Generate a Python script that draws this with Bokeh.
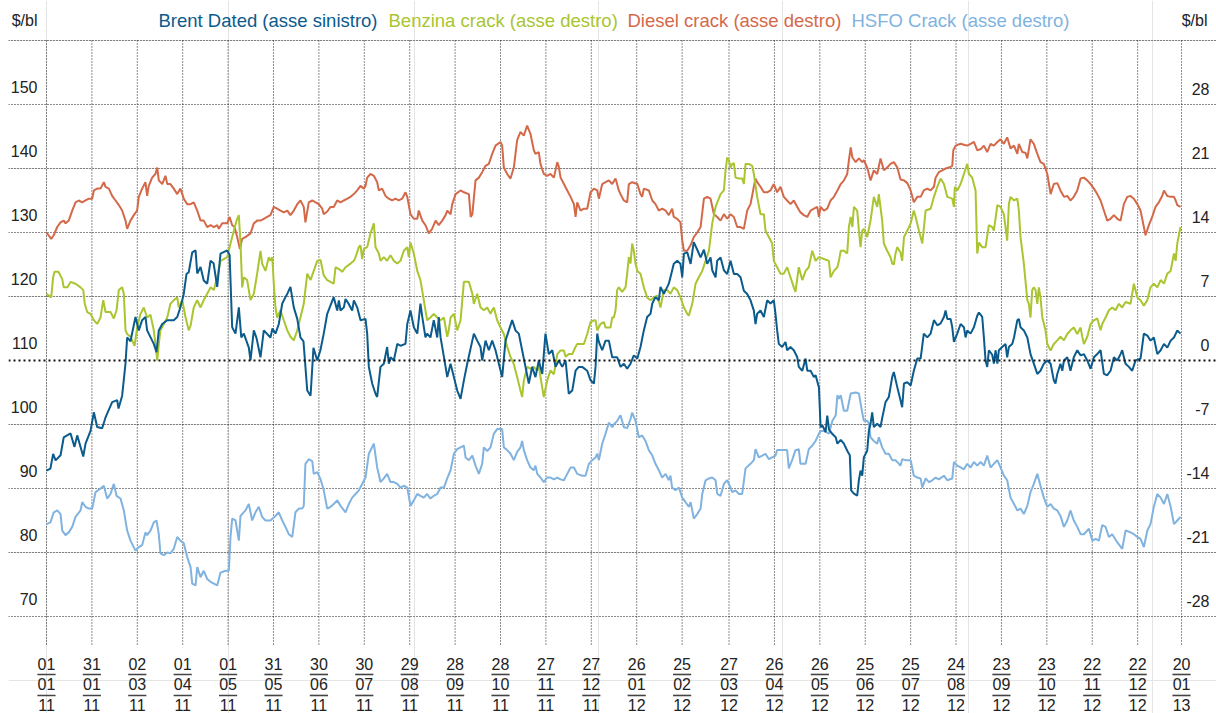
import pandas as pd
from bokeh.plotting import figure
from bokeh.models import Range1d, Grid, FixedTicker, Span, Label
from bokeh.core.properties import value
from bokeh.embed import file_html
from bokeh.resources import INLINE

# ---------------- data (x = days since 01/01/2011) ----------------
brent_day = [
    0, 2.6, 4.4, 6, 9.3, 11.4, 15.9, 18.5, 20.3, 24.3,
    25.8, 29.1, 31.3, 33.5, 36.8, 39, 43.4, 46.7, 47.6, 50,
    52.2, 53.3, 55.5, 58.8, 61, 63.2, 65.4, 66.5, 70.9, 72.7,
    74.2, 76.5, 79.8, 84.1, 86.4, 88.5, 90.7, 92.5, 94, 96.3,
    98.5, 99.6, 101.8, 103.9, 106.2, 108.4, 110.4, 112.8, 115, 119.4,
    121, 122.7, 124.9, 127.1, 128.7, 130.4, 133.7, 134.8, 137, 138.8,
    141.4, 143.6, 148, 149.3, 151.3, 153.5, 155.8, 157.9, 159.1, 161.2,
    163.4, 165.7, 167.8, 169.8, 172.3, 174.5, 176.4, 178.9, 181, 183.2,
    185.5, 189.8, 192.1, 193.2, 194.3, 196.5, 197.6, 199.8, 202, 203.1,
    205.3, 207.5, 210.8, 211.9, 213, 215.2, 217.4, 218.5, 220.7, 222.9,
    225.1, 226.2, 227.3, 229.5, 231.8, 233.9, 237.2, 238.4, 240.5, 242.7,
    245, 247.1, 248.3, 250.4, 251.5, 253.7, 255.9, 258.2, 259.2, 260.4,
    261.5, 263.7, 264.8, 267, 269.2, 271.4, 273.6, 275.8, 278, 282.4,
    284.6, 286.8, 287.9, 290.1, 292.3, 294.5, 296.7, 298.9, 301.1, 303.3,
    305.5, 307.7, 309.9, 312.1, 314.3, 316.5, 318.7, 320.9, 323.1, 325.3,
    327.6, 329.7, 331.9, 334.2, 336.4, 338.5, 340.8, 343, 345.1, 347.4,
    349.6, 351.7, 354, 357.3, 359.5, 361.7, 362.8, 363.9, 365, 367.2,
    369.4, 371.6, 373.8, 377.1, 379.3, 381.5, 383.7, 385.9, 388.1, 390.4,
    392.5, 394.7, 396.9, 399.1, 400.3, 402.4, 404.6, 405.7, 407.9, 410.2,
    411.2, 412.3, 414.5, 416.8, 418.9, 420.1, 421.2, 423.4, 425.6, 427.7,
    430, 432.2, 434.4, 436.6, 438.8, 439.9, 442.1, 443.2, 445.4, 447.6,
    449.8, 452, 454.2, 456.4, 458.6, 460.8, 463, 465.2, 467.4, 468.5,
    469.6, 471.8, 474, 476.2, 478.4, 480.6, 481.7, 482.8, 483.9, 486.1,
    488.3, 489.4, 491.6, 493.8, 496.1, 497.1, 499.4, 501.6, 502.7, 504.9,
    507.1, 508.2, 510.4, 511.5, 512.8, 514.8, 515.9, 517.1, 519.3, 521.5,
    522.6, 524.8, 526.9, 529.1, 530.8, 531.7, 533.5, 535.7, 536.8, 537.9,
    539, 540.1, 542.3, 543.4, 544.5, 545.6, 546.7, 548.9, 551.1, 552.2,
    554.4, 556.6, 558.8, 559.9, 562.2, 564.3, 565.4, 566.6, 568.8, 571,
    573.1, 575.4, 577.6, 579.7, 582, 584.2, 586.4, 588.6, 590.8, 593,
    594.1, 595.2, 597.4, 598.5, 599.6, 601.8, 604, 606.2, 607.3, 608.4,
    610.6, 612.8, 615, 616.1, 618.3, 619.4, 620.5, 621.6, 622.7, 624.9,
    626, 627.1, 628.3, 629.3, 631.5, 633.7, 634.8, 635.9, 638.2, 639.3,
    641.5, 642.5, 643.6, 645.8, 648.1, 650.2, 652.4, 654.7, 656.8, 659,
    661.3, 663.5, 665.6, 666.7, 667.9, 670, 671.2, 672.3, 674.5, 676.6,
    678.8, 681.1, 683.3, 685.5, 687.7, 689.9, 692.1, 694.3, 696.5, 698.7,
    700.9, 703.1, 705.3, 707.6, 709.7, 710.8, 713, 715.2, 717.4, 719.6,
    722.9, 725.1, 727.4, 729.5, 731.7, 734, 736.2, 738.4, 740.6, 742.8,
    745, 747.2, 749.3,
]
brent_val = [
    92.8, 93.1, 95.4, 94.4, 95.2, 98.0, 98.6, 96.5, 98.3, 95.0,
    97.0, 99.0, 101.9, 99.6, 99.4, 101.1, 103.5, 103.8, 102.5, 104.5,
    109.5, 113.6, 113.0, 116.8, 114.7, 116.3, 116.8, 114.7, 112.6, 111.3,
    114.7, 115.7, 116.3, 116.3, 116.8, 118.3, 120.4, 123.5, 123.8, 126.9,
    127.2, 123.6, 124.6, 122.5, 122.0, 125.6, 125.2, 121.5, 126.7, 127.2,
    126.5, 115.2, 114.2, 118.3, 113.6, 114.2, 112.0, 110.0, 114.7, 113.5,
    110.5, 114.7, 113.6, 115.0, 114.2, 115.7, 118.9, 119.9, 120.4, 121.5,
    118.3, 116.5, 113.6, 113.0, 105.3, 104.5, 112.0, 110.0, 111.6, 114.2,
    117.3, 119.9, 117.8, 119.4, 117.8, 118.3, 119.6, 118.8, 117.8, 119.4,
    118.3, 116.3, 116.5, 114.2, 109.0, 106.4, 104.8, 104.3, 109.0, 109.5,
    112.1, 109.5, 110.5, 110.0, 112.6, 112.3, 112.6, 115.7, 117.8, 115.2,
    114.2, 118.9, 116.8, 113.6, 114.2, 113.6, 116.3, 113.6, 116.8, 113.6,
    112.1, 109.0, 107.4, 109.5, 107.4, 105.3, 104.0, 106.9, 109.5, 114.2,
    113.1, 112.1, 110.0, 113.1, 111.6, 113.1, 111.6, 109.5, 107.4, 113.1,
    114.7, 116.3, 114.7, 114.2, 111.6, 109.0, 106.4, 109.0, 107.4, 110.0,
    107.9, 114.2, 111.0, 111.6, 109.0, 110.0, 109.0, 110.0, 104.8, 105.3,
    108.4, 109.0, 109.0, 108.4, 106.9, 106.4, 109.0, 114.2, 112.9, 111.6,
    113.1, 113.1, 110.5, 110.5, 109.0, 109.5, 108.7, 109.5, 110.8, 110.3,
    112.1, 114.7, 116.8, 117.3, 118.9, 119.9, 119.4, 121.5, 120.4, 121.5,
    122.0, 123.0, 125.1, 125.6, 125.1, 123.0, 126.7, 126.9, 125.1, 128.5,
    127.3, 126.1, 127.3, 125.1, 126.1, 124.1, 123.0, 125.6, 126.1, 124.1,
    123.5, 125.6, 123.5, 123.5, 123.0, 120.9, 120.4, 119.4, 117.8, 115.7,
    117.3, 117.8, 116.8, 119.4, 118.9, 119.4, 117.3, 114.7, 112.6, 112.1,
    112.9, 111.6, 112.1, 111.6, 110.5, 109.0, 108.4, 110.3, 108.4, 108.4,
    107.4, 107.7, 105.8, 99.6, 99.8, 98.8, 101.4, 99.2, 98.5, 98.0,
    97.0, 97.6, 97.0, 95.9, 95.2, 89.7, 89.2, 88.9, 91.3, 92.8,
    92.0, 94.9, 95.9, 99.0, 100.1, 101.9, 99.6, 100.1, 99.6, 101.0,
    103.5, 104.3, 107.4, 108.2, 105.8, 103.8, 102.7, 106.4, 106.6, 106.1,
    108.4, 110.3, 110.3, 114.2, 113.6, 114.2, 116.3, 115.5, 115.8, 116.8,
    117.8, 116.5, 116.5, 115.2, 112.9, 114.2, 115.7, 115.2, 113.6, 114.7,
    114.2, 115.2, 117.0, 117.5, 116.8, 113.6, 110.0, 109.0, 111.6, 110.9,
    109.5, 111.6, 109.5, 111.6, 112.1, 112.6, 110.5, 112.1, 112.6, 113.6,
    116.3, 116.5, 115.2, 114.7, 113.6, 111.0, 109.5, 107.9, 108.4, 109.5,
    110.0, 109.5, 106.9, 106.4, 107.9, 109.5, 108.4, 110.0, 110.5, 108.4,
    110.5, 111.6, 110.8, 111.0, 110.0, 108.7, 110.5, 111.0, 111.6, 107.9,
    107.7, 108.4, 110.5, 110.0, 111.0, 111.6, 109.5, 109.0, 108.4, 110.0,
    110.3, 114.2, 113.9, 113.1, 113.6, 111.0, 111.6, 112.6, 112.0, 113.1,
    113.6, 114.7, 114.2,
]

benzina_day = [
    0, 3.1, 4.4, 5.3, 7.9, 10.4, 11.4, 13.9, 15.9, 19.2,
    22.5, 24.3, 25.3, 26.9, 29.1, 31.3, 33.5, 35.7, 37.5, 39,
    42.3, 44.5, 46.3, 47.8, 50, 51.1, 52.2, 53.3, 55.5, 58.2,
    59.9, 62.1, 64.3, 66.5, 68.7, 70.9, 72, 73.2, 74.2, 75.3,
    77.5, 79.8, 81.9, 84.1, 86.4, 87.4, 89.7, 91.9, 94, 95.2,
    97.3, 99.6, 101.8, 103.9, 106.2, 108.4, 110.6, 112.8, 115, 117.2,
    119.4, 121.6, 123.8, 125.6, 127.1, 128.2, 129.3, 130.4, 132.6, 134.8,
    137, 139.2, 141.4, 142.5, 144.7, 146.9, 148, 149.2, 150.2, 151.3,
    152.4, 154.6, 156.8, 159.1, 161.2, 163.4, 165.7, 167.8, 170, 172.3,
    174.5, 176.6, 178.9, 181.1, 183.2, 185.5, 187.7, 189.8, 191, 193.2,
    195.4, 197.6, 200.9, 203.1, 204.2, 206.4, 207.5, 208.6, 209.7, 211.9,
    214.1, 216.3, 217.4, 219.6, 220.7, 222.9, 225.1, 227.3, 229.5, 231.8,
    233.9, 236.1, 238.4, 239.4, 240.5, 242.7, 245, 247.1, 249.3, 251.5,
    253.7, 255.9, 258.2, 260.4, 262.6, 264.8, 265.8, 267, 269.2, 271.4,
    273.6, 275.8, 279.1, 281.4, 282.4, 284.6, 286.8, 289, 291.2, 293.4,
    294.5, 295.6, 297.8, 300, 302.2, 304.4, 306.6, 308.8, 311, 313.2,
    314.3, 315.4, 317.6, 319.8, 322, 324.3, 325.3, 326.4, 328.6, 330.8,
    333, 335.3, 337.5, 339.7, 341.9, 343, 345.1, 347.4, 349.6, 350.7,
    352.9, 355.1, 357.3, 359.5, 361.7, 362.8, 363.9, 366.1, 368.3, 369.4,
    371.6, 372.7, 373.8, 374.9, 376, 377.1, 378.2, 380.4, 382.6, 383.7,
    384.8, 385.9, 387, 388.1, 389.2, 390.4, 392.5, 394.7, 396.9, 399.1,
    401.3, 403.5, 405.7, 407.9, 410.2, 412.3, 414.5, 416.8, 418.9, 421.2,
    423.4, 424.4, 426.7, 428.9, 431, 433.3, 435.5, 437.7, 439.9, 442.1,
    445.4, 447.6, 448.7, 449.8, 450.9, 452, 453.1, 454.2, 455.3, 457.5,
    459.7, 460.8, 461.9, 464.1, 466.3, 467.4, 469.6, 471.8, 474, 475.1,
    477.3, 479.5, 480.6, 482.8, 485, 487.2, 489.4, 491.6, 493.8, 494.9,
    497.1, 499.4, 501.6, 503.7, 506, 508.2, 510.4, 513.7, 517, 518.1,
    520.3, 522.6, 523.6, 524.8, 526.9, 529.1, 530.2, 531.4, 532.5, 533.5,
    535.7, 536.8, 537.9, 539, 540.1, 542.3, 544.5, 546.7, 548.9, 550,
    552.2, 553.3, 555.5, 557.7, 558.8, 559.9, 561, 562.2, 564.3, 565.4,
    566.6, 568.8, 571, 573.1, 574.3, 576.5, 578.7, 580.9, 584.2, 586.4,
    588.6, 590.8, 593, 595.2, 598.5, 599.6, 600.2, 601.8, 604, 606.2,
    608.4, 609.5, 611.7, 613.9, 615, 616.1, 618.3, 620.5, 622.7, 624.9,
    626, 628.3, 630.4, 632.6, 634.8, 635.9, 637, 639.3, 641.5, 642.5,
    643.6, 645.8, 648.1, 649.1, 650.2, 651.3, 652.4, 653.5, 654.7, 655.7,
    656.8, 658, 660.1, 661.3, 663.5, 665.6, 667.9, 670, 672.3, 674.5,
    676.6, 678.8, 681.1, 683.3, 684.4, 685.5, 687.7, 689.9, 692.1, 694.3,
    696.5, 697.6, 699.8, 702, 704.2, 706.4, 708.6, 710.8, 713, 716.3,
    718.5, 720.8, 722.9, 725.1, 727.4, 729.5, 731.7, 734, 736.2, 738.4,
    740.6, 742.8, 745, 746.1, 747.2, 749.3,
]
benzina_val = [
    7.3, 6.9, 9.1, 9.7, 9.7, 8.9, 8.0, 8.0, 8.6, 8.4,
    8.0, 7.7, 6.2, 5.3, 5.1, 4.4, 4.0, 4.7, 6.6, 5.3,
    5.3, 4.6, 5.5, 7.7, 8.0, 7.3, 3.3, 2.9, 2.6, 1.6,
    3.6, 5.1, 5.8, 4.7, 5.0, 3.3, 1.8, 0.0, 1.8, 3.3,
    4.0, 4.7, 6.2, 6.6, 6.9, 5.8, 6.6, 4.7, 3.3, 3.8,
    5.8, 6.6, 5.8, 6.6, 7.3, 8.0, 7.7, 9.1, 10.9, 11.1,
    11.3, 12.8, 14.2, 15.3, 15.9, 12.8, 8.0, 9.1, 8.8, 6.6,
    7.3, 9.5, 12.0, 10.6, 9.8, 11.3, 10.9, 11.3, 8.4, 5.8,
    4.7, 5.5, 4.4, 3.3, 2.6, 2.2, 3.3, 4.7, 6.2, 9.5,
    8.8, 9.8, 10.9, 11.0, 9.3, 8.8, 8.6, 8.4, 10.2, 10.0,
    9.7, 10.2, 10.6, 10.9, 11.3, 12.4, 12.6, 11.1, 12.2, 12.4,
    13.9, 15.0, 12.4, 11.7, 10.9, 11.3, 10.9, 11.5, 10.9, 10.6,
    10.9, 12.0, 12.4, 11.3, 12.9, 11.7, 9.8, 8.8, 6.6, 4.4,
    4.7, 5.1, 4.7, 4.4, 4.7, 2.6, 3.3, 4.7, 5.1, 3.3,
    4.4, 8.6, 8.6, 7.3, 6.2, 7.3, 5.8, 5.5, 5.8, 5.1,
    5.5, 5.8, 4.4, 3.6, 2.9, 1.5, 0.4, -0.4, -1.8, -3.3,
    -4.0, -2.2, -0.7, -0.9, -0.7, -1.1, -0.4, -1.8, -4.0, -2.2,
    -1.1, -1.5, 0.7, 1.1, 1.1, 0.4, 0.7, 0.7, 1.5, 1.8,
    1.8, 1.8, 2.9, 4.2, 4.4, 4.4, 3.3, 4.0, 4.2, 3.6,
    3.6, 3.6, 4.7, 4.7, 5.5, 7.7, 8.0, 7.5, 8.0, 9.5,
    11.3, 10.6, 12.8, 12.0, 10.6, 9.8, 9.5, 8.0, 6.9, 6.6,
    6.9, 7.1, 5.8, 7.7, 7.7, 7.3, 8.0, 7.7, 6.9, 5.8,
    5.1, 4.9, 6.2, 8.4, 9.1, 9.8, 10.9, 12.0, 15.0, 16.8,
    18.2, 18.6, 20.8, 22.2, 21.9, 21.1, 21.5, 21.6, 20.0, 19.9,
    19.9, 19.3, 21.5, 21.5, 21.3, 20.4, 17.9, 16.0, 16.0, 14.2,
    13.5, 12.8, 10.9, 10.2, 9.5, 9.5, 10.2, 9.1, 8.0, 7.5,
    10.2, 8.8, 9.8, 10.2, 12.0, 10.9, 11.3, 11.1, 10.9, 9.1,
    9.8, 10.2, 10.9, 12.0, 12.0, 11.7, 14.6, 15.7, 14.6, 16.8,
    16.4, 14.2, 12.4, 14.2, 14.4, 13.5, 15.3, 17.9, 16.8, 18.2,
    15.3, 12.8, 12.0, 11.3, 10.6, 10.5, 11.7, 12.4, 11.8, 10.9,
    13.5, 14.2, 15.0, 16.4, 15.7, 14.2, 12.8, 16.4, 16.6, 17.9,
    19.0, 19.9, 19.3, 17.9, 17.7, 16.8, 19.0, 18.6, 19.3, 20.4,
    21.5, 20.4, 20.0, 18.6, 11.7, 12.9, 12.4, 12.4, 14.8, 14.6,
    14.2, 17.0, 16.8, 16.0, 13.1, 17.1, 17.9, 17.5, 17.7, 16.4,
    13.5, 10.6, 6.6, 6.2, 4.7, 7.7, 8.0, 7.7, 6.2, 8.0,
    6.9, 4.7, 3.3, 1.8, 1.1, 1.8, 2.2, 2.6, 2.2, 2.9,
    3.3, 3.6, 2.9, 3.6, 2.6, 1.8, 2.6, 4.0, 4.4, 4.6,
    3.3, 4.0, 4.7, 5.5, 5.8, 5.5, 6.2, 5.8, 6.4, 6.2,
    8.4, 6.9, 6.6, 6.0, 6.6, 8.0, 8.4, 8.0, 8.8, 8.4,
    9.5, 9.8, 11.7, 10.9, 12.8, 14.6,
]

diesel_day = [
    0, 3.1, 4.8, 7.1, 9.3, 11.4, 12.6, 14.7, 17, 19.2,
    21.3, 23.6, 25.8, 28, 30.2, 31.3, 33.5, 35.7, 37.9, 39,
    41.2, 43.4, 45.6, 47.8, 50, 52.2, 53.3, 55.5, 57.7, 59.9,
    61, 63.2, 65.4, 66.5, 67.6, 69.8, 72, 73.2, 74.2, 76.5,
    78.6, 79.8, 81.9, 84.1, 86.4, 88.5, 90.7, 93, 95.2, 97.3,
    99.6, 101.8, 103.9, 106.2, 108.4, 110.6, 112.8, 113.9, 116.1, 119.4,
    121, 122.7, 124.3, 126, 127.8, 129.3, 131.5, 134.8, 137, 139.2,
    141.4, 143.6, 145.8, 148, 150.2, 152.4, 154.6, 156.8, 159.1, 161.2,
    163.4, 165.7, 167.8, 170, 171.1, 173.3, 175.6, 177.8, 179.9, 182.2,
    183.2, 185.5, 187.7, 189.8, 192.1, 194.3, 196.5, 198.8, 200.9, 203.1,
    205.3, 207.5, 209.7, 210.8, 211.9, 214.1, 216.3, 218.5, 219.6, 221.8,
    224, 226.2, 228.4, 230.6, 232.8, 235, 237.2, 238.4, 240.5, 242.7,
    245, 246, 248.3, 250.4, 252.6, 254.8, 257.1, 259.2, 261.5, 263.7,
    264.8, 267, 268.1, 270.3, 273.6, 275.8, 279.1, 280.3, 281.4, 283.5,
    285.7, 287.9, 290.1, 292.3, 294.5, 296.7, 300, 301.1, 302.2, 304.4,
    306.6, 308.8, 311, 313.2, 315.4, 317.6, 319.8, 322, 323.1, 325.3,
    326.4, 328.6, 330.8, 333, 335.3, 337.5, 338.5, 339.7, 341.9, 344.1,
    346.3, 348.5, 349.6, 350.7, 352.9, 355.1, 357.3, 359.5, 361.7, 363.9,
    365, 367.2, 369.4, 371.6, 373.8, 376, 378.2, 379.3, 381.5, 383.7,
    384.8, 387, 390.4, 392.5, 393.6, 394.7, 398, 400.3, 402.4, 404.6,
    406.8, 409.1, 411.2, 413.4, 414.5, 416.8, 418.9, 420.1, 421.2, 423.4,
    425.6, 427.7, 430, 432.2, 434.4, 436.6, 438.8, 441, 443.2, 445.4,
    447.6, 449.8, 452, 454.2, 456.4, 458.6, 460.8, 463, 465.2, 467.4,
    468.5, 469.6, 471.8, 474, 476.2, 478.4, 480.6, 482.8, 485, 487.2,
    489.4, 491.6, 493.8, 496.1, 498.2, 500.4, 502.7, 504.9, 507.1, 509.3,
    510.4, 511.5, 513.7, 515.9, 518.1, 520.3, 522.6, 524.8, 526.9, 529.1,
    530.2, 531.4, 532.5, 534.7, 536.8, 539, 540.1, 542.3, 544.5, 546.7,
    548.9, 551.1, 553.3, 555.5, 557.7, 559.9, 562.2, 564.3, 566.6, 568.8,
    571, 573.1, 575.4, 577.6, 579.7, 582, 584.2, 586.4, 587.5, 589.6,
    591.9, 594.1, 596.3, 598.5, 599.2, 600.7, 604, 606.2, 608.4, 610.6,
    612.8, 615, 617.2, 619.4, 621.6, 623.8, 626, 628.3, 630.4, 632.6,
    634.8, 637, 639.3, 641.5, 642.5, 644.8, 647, 648.1, 650.2, 652.4,
    654.7, 656.8, 659, 661.3, 663.5, 665.6, 667.9, 670, 672.3, 674.5,
    676.6, 678.8, 681.1, 683.3, 685.5, 687.7, 689.9, 692.1, 694.3, 696.5,
    698.7, 700.9, 703.1, 705.3, 707.6, 709.7, 711.9, 714.1, 716.3, 718.5,
    720.8, 722.9, 725.1, 726.2, 728.4, 730.6, 732.8, 735, 737.2, 738.4,
    740.6, 742.8, 745, 746.1, 747.2, 749.3,
]
diesel_val = [
    14.0, 13.3, 13.7, 14.6, 15.1, 15.3, 15.0, 15.3, 16.4, 17.3,
    17.5, 17.3, 17.5, 17.7, 17.7, 18.6, 18.8, 18.8, 19.5, 19.0,
    18.8, 18.0, 17.5, 17.0, 16.4, 15.3, 14.4, 15.3, 15.9, 16.4,
    17.9, 18.8, 19.5, 18.0, 19.1, 20.0, 20.4, 21.1, 19.7, 19.3,
    20.2, 19.3, 19.3, 18.8, 18.2, 18.8, 17.7, 17.1, 17.1, 17.3,
    16.4, 15.3, 15.3, 14.6, 14.8, 14.6, 14.8, 14.4, 15.0, 15.0,
    15.7, 14.8, 14.6, 13.5, 12.2, 13.3, 13.5, 13.9, 15.0, 15.3,
    15.3, 15.5, 15.7, 15.9, 16.8, 16.6, 16.4, 16.2, 16.4, 15.9,
    16.4, 17.1, 17.5, 16.8, 15.1, 17.3, 17.5, 17.3, 17.1, 16.6,
    16.0, 16.3, 16.8, 16.8, 17.5, 17.3, 17.5, 17.7, 17.9, 18.2,
    18.6, 19.1, 18.8, 19.1, 20.0, 20.4, 20.2, 19.5, 18.6, 18.8,
    18.0, 17.7, 17.5, 17.7, 17.5, 17.7, 18.4, 17.9, 16.0, 15.5,
    15.5, 16.4, 15.3, 14.8, 13.9, 14.4, 15.3, 14.8, 15.3, 15.9,
    16.4, 16.0, 17.1, 18.2, 18.6, 18.4, 18.2, 15.7, 16.0, 19.7,
    20.0, 20.6, 21.3, 21.5, 22.6, 23.5, 23.9, 23.5, 21.1, 20.4,
    19.9, 21.1, 24.1, 25.0, 24.6, 25.7, 24.8, 23.0, 22.6, 22.8,
    21.5, 20.4, 20.2, 20.4, 20.0, 21.7, 21.2, 20.0, 19.3, 18.6,
    17.9, 17.1, 15.7, 17.3, 16.4, 16.6, 16.6, 18.4, 18.8, 18.6,
    17.7, 19.3, 19.5, 19.7, 19.3, 19.9, 18.6, 18.2, 17.5, 17.3,
    19.3, 19.5, 19.3, 18.2, 17.9, 18.8, 18.6, 17.5, 17.1, 16.4,
    16.6, 16.4, 15.9, 16.6, 15.7, 15.5, 15.1, 13.1, 12.0, 12.0,
    12.6, 13.5, 14.0, 14.6, 17.7, 17.9, 17.7, 16.0, 15.7, 15.3,
    16.0, 15.5, 16.0, 15.7, 14.6, 14.6, 14.4, 16.4, 17.1, 19.0,
    19.9, 19.5, 19.0, 18.4, 18.4, 18.6, 19.3, 18.4, 19.0, 17.9,
    17.5, 17.1, 17.5, 16.8, 16.2, 15.9, 15.7, 16.4, 16.6, 16.8,
    15.7, 16.8, 16.4, 16.6, 17.5, 17.9, 18.6, 19.3, 19.7, 20.4,
    21.9, 23.3, 22.2, 21.7, 22.1, 21.7, 21.9, 21.1, 19.7, 20.8,
    20.4, 22.1, 20.8, 21.1, 21.5, 21.7, 21.1, 19.8, 19.7, 19.4,
    18.6, 17.3, 17.9, 17.9, 18.6, 18.8, 18.6, 19.0, 20.0, 20.6,
    20.8, 21.0, 21.1, 21.3, 23.0, 23.5, 23.7, 23.6, 23.5, 23.7,
    23.9, 23.0, 23.1, 23.5, 22.8, 23.7, 23.5, 23.9, 24.2, 23.7,
    24.4, 23.2, 23.5, 22.6, 23.7, 22.8, 22.7, 22.1, 24.2, 23.7,
    22.6, 21.7, 21.5, 20.4, 18.2, 19.3, 19.4, 18.6, 17.9, 18.0,
    17.5, 17.9, 18.6, 19.9, 20.0, 19.7, 19.3, 18.8, 18.2, 17.5,
    16.4, 15.3, 15.5, 15.9, 15.5, 15.3, 17.1, 17.9, 18.0, 17.7,
    17.1, 16.4, 14.6, 13.7, 14.8, 15.7, 16.8, 17.3, 18.0, 18.6,
    18.0, 17.9, 17.9, 17.5, 17.0, 16.8,
]

hsfo_day = [
    0, 2.6, 4.8, 7.1, 9.3, 10.4, 12.6, 14.7, 17, 19.2,
    22.5, 23.6, 25.8, 28, 30.2, 32.4, 35.7, 37.9, 40.1, 42.3,
    44.5, 46.3, 48.9, 51.1, 53.3, 55.5, 58.8, 61, 63.2, 65.4,
    66.5, 68.7, 70.9, 72.7, 74.2, 75.3, 77.5, 79.8, 81.9, 84.1,
    86.4, 88.5, 90.7, 93, 95.2, 96.3, 98.5, 99.6, 101.8, 103.9,
    106.2, 108.4, 110.6, 112.8, 115, 118.3, 120.5, 121.6, 122.7, 124.9,
    127.1, 128.2, 131.5, 133.7, 135.9, 138.1, 140.3, 142.5, 144.7, 148,
    151.3, 153.5, 155.8, 157.9, 160.1, 162.4, 164.5, 166.7, 169, 170,
    171.1, 173.3, 175.6, 176.6, 178.9, 181.1, 183.2, 185.5, 187.7, 189.8,
    192.1, 194.3, 197.6, 199.8, 202, 204.2, 206.4, 208.6, 210.8, 213,
    216.3, 218.5, 220.7, 222.9, 225.1, 227.3, 229.5, 231.8, 233.9, 236.1,
    238.4, 240.5, 242.7, 245, 247.1, 249.3, 251.5, 253.7, 255.9, 258.2,
    260.4, 262.6, 264.8, 267, 269.2, 271.4, 273.6, 275.8, 276.9, 279.1,
    281.4, 283.5, 285.7, 287.9, 289, 291.2, 293.4, 295.6, 297.8, 301.1,
    302.2, 304.4, 306.6, 308.8, 311, 313.2, 314.3, 315.4, 317.6, 319.8,
    322, 323.1, 324.3, 326.4, 328.6, 330.8, 333, 335.3, 337.5, 339.7,
    341.9, 344.1, 346.3, 348.5, 350.7, 354, 356.2, 358.4, 360.6, 362.8,
    363.9, 365, 367.2, 369.4, 371.6, 373.8, 374.9, 377.1, 379.3, 381.5,
    383.7, 385.9, 387, 389.2, 391.4, 393.6, 395.8, 398, 400.3, 402.4,
    404.6, 406.8, 409.1, 411.2, 412.3, 413.4, 415.6, 417.9, 418.9, 420.1,
    422.3, 424.4, 425.6, 426.7, 427.7, 430, 432.2, 433.3, 435.5, 437.7,
    439.9, 442.1, 443.2, 445.4, 447.6, 449.8, 452, 453.1, 455.3, 457.5,
    459.7, 461.9, 465.2, 467.4, 468.5, 470.7, 473, 475.1, 477.3, 479.5,
    481.7, 482.8, 485, 487.2, 489.4, 490.5, 492.7, 494.9, 497.1, 498.2,
    501.6, 503.7, 506, 508.2, 510.4, 511.5, 513.7, 517, 519.3, 521.5,
    522.6, 523.6, 524.8, 526.9, 529.1, 531.4, 534.7, 536.8, 539, 540.1,
    542.3, 543.4, 544.5, 546.7, 548.9, 550, 552.2, 554.4, 556.6, 558.8,
    561, 564.3, 565.4, 567.7, 571, 573.1, 575.4, 577.6, 578.7, 580.9,
    583.1, 585.3, 587.5, 589.6, 593, 595.2, 598.5, 599.6, 601.8, 604,
    606.2, 608.4, 610.6, 612.8, 615, 617.2, 619.4, 621.6, 623.8, 626,
    628.3, 630.4, 632.6, 634.8, 637, 639.3, 641.5, 643.6, 645.8, 648.1,
    650.2, 652.4, 654.7, 656.8, 659, 661.3, 663.5, 665.6, 667.9, 670,
    672.3, 674.5, 676.6, 678.8, 681.1, 683.3, 685.5, 688.8, 691.1, 693.2,
    695.4, 697.6, 699.8, 702, 704.2, 707.6, 710.8, 713, 716.3, 718.5,
    720.8, 722.9, 725.1, 727.4, 729.5, 731.7, 734, 736.2, 738.4, 740.6,
    742.8, 745, 747.2, 749.3,
]
hsfo_val = [
    -17.9, -17.7, -16.6, -16.4, -16.8, -18.6, -19.1, -18.8, -18.2, -17.1,
    -16.4, -15.5, -16.0, -16.2, -16.2, -14.4, -14.0, -13.7, -15.1, -14.6,
    -13.5, -14.8, -15.1, -16.4, -18.6, -19.7, -20.8, -20.4, -20.2, -18.8,
    -19.1, -18.6, -17.7, -17.5, -19.0, -21.1, -21.3, -21.0, -21.1, -20.6,
    -19.3, -19.7, -20.0, -21.5, -22.6, -24.4, -24.6, -22.6, -23.7, -23.0,
    -23.9, -24.2, -24.4, -24.6, -23.2, -23.0, -23.0, -19.3, -17.3, -17.5,
    -19.7, -17.0, -16.4, -15.7, -17.5, -16.6, -16.0, -17.1, -17.5, -17.5,
    -17.0, -16.6, -17.5, -18.2, -19.0, -19.3, -16.6, -16.2, -16.2, -15.9,
    -11.3, -10.8, -11.0, -12.4, -12.2, -13.0, -14.2, -16.2, -16.0, -15.7,
    -15.3, -15.9, -16.6, -15.7, -15.0, -14.6, -14.2, -13.5, -12.8, -10.2,
    -9.1, -11.7, -13.3, -12.9, -12.4, -13.3, -13.3, -13.5, -13.9, -13.7,
    -13.9, -15.9, -15.3, -14.6, -14.8, -15.0, -14.6, -15.1, -14.8, -14.6,
    -13.9, -13.9, -12.9, -12.0, -10.2, -9.7, -9.5, -9.3, -10.6, -10.9,
    -10.4, -11.5, -12.4, -11.3, -9.5, -9.9, -9.5, -8.0, -7.5, -7.5,
    -9.5, -9.8, -10.2, -10.9, -10.0, -9.5, -8.8, -9.8, -10.9, -11.7,
    -12.0, -11.5, -12.4, -12.8, -13.3, -12.8, -12.8, -13.0, -12.8, -13.0,
    -13.1, -12.4, -11.7, -11.7, -12.4, -12.6, -12.6, -11.3, -10.9, -10.6,
    -10.2, -10.9, -9.1, -8.0, -6.8, -7.3, -7.0, -6.6, -6.0, -7.3,
    -7.4, -6.4, -5.7, -6.6, -8.4, -8.2, -8.8, -9.8, -10.4, -11.3,
    -12.0, -12.8, -12.4, -13.1, -12.6, -13.9, -14.2, -13.9, -14.4, -15.0,
    -15.5, -16.0, -15.5, -16.4, -17.3, -16.8, -16.2, -14.6, -13.1, -12.9,
    -12.8, -13.1, -14.6, -14.8, -13.5, -13.1, -13.9, -14.4, -14.2, -14.6,
    -14.6, -11.8, -11.3, -10.9, -9.7, -10.6, -10.4, -10.2, -10.8, -10.6,
    -10.4, -9.8, -9.8, -9.8, -9.8, -11.8, -10.9, -9.8, -9.7, -11.3,
    -11.3, -9.7, -9.3, -8.8, -8.0, -7.7, -7.7, -8.0, -6.6, -6.0,
    -3.8, -4.2, -3.8, -5.5, -5.5, -3.6, -3.5, -3.6, -5.7, -6.6,
    -6.6, -6.9, -8.4, -8.8, -9.1, -8.4, -9.5, -10.2, -10.2, -10.9,
    -10.9, -11.5, -10.8, -10.9, -10.9, -12.6, -12.8, -12.9, -13.9, -12.9,
    -13.3, -13.1, -12.8, -13.0, -12.6, -13.1, -12.9, -11.1, -11.5, -11.7,
    -11.9, -11.3, -11.7, -11.1, -11.5, -11.1, -11.5, -10.4, -11.7, -11.3,
    -10.9, -11.7, -12.6, -13.1, -15.0, -15.7, -16.4, -16.2, -16.8, -15.9,
    -14.4, -13.5, -12.4, -13.7, -15.0, -16.0, -15.7, -16.2, -16.4, -17.0,
    -18.2, -17.5, -16.4, -17.5, -18.2, -19.0, -19.0, -18.4, -19.7, -19.5,
    -19.7, -18.0, -18.2, -19.3, -19.0, -19.9, -20.6, -18.6, -18.8, -19.0,
    -19.3, -19.5, -20.4, -18.6, -17.9, -16.0, -14.6, -15.0, -15.7, -14.6,
    -16.0, -17.9, -17.5, -17.1,
]

tick_dates = [
    "2011-01-01", "2011-01-31", "2011-03-02", "2011-04-01", "2011-05-01",
    "2011-05-31", "2011-06-30", "2011-07-30", "2011-08-29", "2011-09-28",
    "2011-10-28", "2011-11-27", "2011-12-27", "2012-01-26", "2012-02-25",
    "2012-03-27", "2012-04-26", "2012-05-26", "2012-06-25", "2012-07-25",
    "2012-08-24", "2012-09-23", "2012-10-23", "2012-11-22", "2012-12-22",
    "2013-01-20",
]
left_ticks = [70, 80, 90, 100, 110, 120, 130, 140, 150]
right_ticks = [-28, -21, -14, -7, 0, 7, 14, 21, 28]

series_names = ["Brent Dated (asse sinistro)", "Benzina crack (asse destro)",
                "Diesel crack (asse destro)", "HSFO Crack (asse destro)"]

# ---------------- styling / layout ----------------
C_BRENT = "#0b5b8c"
C_BENZ = "#a9c52f"
C_DIES = "#d4694a"
C_HSFO = "#80b3e0"
TXT = "#222222"
FONT = "Liberation Sans"
FS = "16px"

LEFT_PAD = 8
W, H = 1216, 713
ORIGIN = pd.Timestamp("2011-01-01")


def to_dates(days):
    return [ORIGIN + pd.Timedelta(days=float(d)) for d in days]


x_start = ORIGIN - pd.Timedelta(days=25.1)
x_end = ORIGIN + pd.Timedelta(days=773.1)
Y_LO, Y_HI = 54.84, 166.25
PX_PER_UNIT = H / (Y_HI - Y_LO)

p = figure(width=W, height=H, x_range=Range1d(x_start, x_end),
           y_range=Range1d(Y_LO, Y_HI), x_axis_type="datetime",
           x_axis_location=None, y_axis_location=None,
           output_backend="svg", toolbar_location=None, min_border=0,
           min_border_left=LEFT_PAD, outline_line_color=None)
p.extra_y_ranges = {"right": Range1d(-38.61, 39.375)}

# horizontal grid
grid = Grid(dimension=1, ticker=FixedTicker(ticks=[70, 80, 90, 100, 120, 130, 140, 150, 160]),
            grid_line_color="#1a1a1a", grid_line_dash="1 2", grid_line_width=1)
p.add_layout(grid)
p.add_layout(Span(location=110, dimension="width", line_color="#111111",
                  line_width=2.2, line_dash="2 3"))

# vertical grid + ticks
tick_dt = pd.to_datetime(tick_dates)
n = len(tick_dt)
grid_bottom = left_ticks[0] - 30 / PX_PER_UNIT
p.segment(x0=tick_dt, y0=[160] * n, x1=tick_dt, y1=[grid_bottom] * n,
          line_color="#1a1a1a", line_width=1, line_dash="1 2")

# series
p.line(to_dates(diesel_day), diesel_val, y_range_name="right", line_color=C_DIES, line_width=2)
p.line(to_dates(hsfo_day), hsfo_val, y_range_name="right", line_color=C_HSFO, line_width=2)
p.line(to_dates(benzina_day), benzina_val, y_range_name="right", line_color=C_BENZ, line_width=2)
p.line(to_dates(brent_day), brent_val, line_color=C_BRENT, line_width=2)

# y tick labels (above their gridline)
p.text(x=[x_start] * len(left_ticks), y=left_ticks, text=[str(v) for v in left_ticks],
       x_offset=29, y_offset=-17, text_align="right", text_baseline="middle",
       text_font=value(FONT), text_font_size=FS, text_color=TXT)
p.text(x=[x_end] * len(right_ticks), y=right_ticks, y_range_name="right",
       text=[str(v) for v in right_ticks],
       x_offset=-7, y_offset=-15, text_align="right", text_baseline="middle",
       text_font=value(FONT), text_font_size=FS, text_color=TXT)
p.text(x=[x_start], y=[160], text=["$/bl"], x_offset=29, y_offset=-20,
       text_align="right", text_baseline="middle",
       text_font=value(FONT), text_font_size=FS, text_color=TXT)
p.text(x=[x_end], y=[160], text=["$/bl"], x_offset=-9, y_offset=-20,
       text_align="right", text_baseline="middle",
       text_font=value(FONT), text_font_size=FS, text_color=TXT)

# x tick labels: day / month / year stacked with rules
day_lbl = [d.strftime("%d") for d in tick_dt]
mon_lbl = [d.strftime("%m") for d in tick_dt]
yr_lbl = [d.strftime("%y") for d in tick_dt]
base = [left_ticks[0]] * n
for labels, off in ((day_lbl, 48), (mon_lbl, 68), (yr_lbl, 89)):
    p.text(x=tick_dt, y=base, text=labels, y_offset=off, text_align="center",
           text_baseline="middle", text_font=value(FONT), text_font_size=FS,
           text_color=TXT)
half = pd.Timedelta(days=6)
for off in (58, 79):
    yy = left_ticks[0] - off / PX_PER_UNIT
    p.segment(x0=tick_dt - half, y0=[yy] * n, x1=tick_dt + half, y1=[yy] * n,
              line_color="#444444", line_width=1.6)

# legend as coloured header text
for name, col, xs in zip(series_names, [C_BRENT, C_BENZ, C_DIES, C_HSFO], [150, 380, 619, 843]):
    p.add_layout(Label(x=xs, y=H - 20, x_units="screen", y_units="screen", text=name,
                       text_color=col, text_font=FONT, text_font_size="18.5px",
                       text_baseline="middle", text_align="left"))

open("out.html", "w").write(file_html(p, INLINE))
